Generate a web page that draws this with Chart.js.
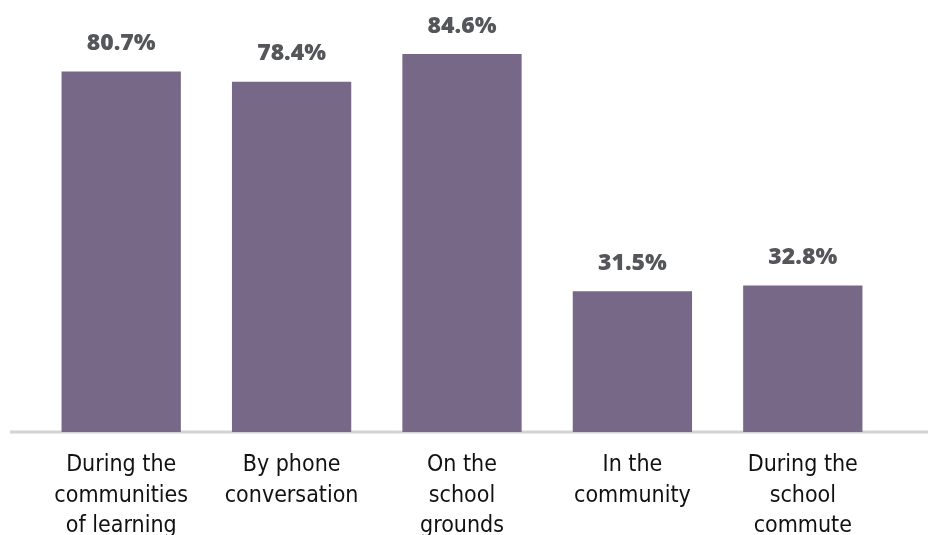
<!DOCTYPE html>
<html><head><meta charset="utf-8">
<script src="https://cdn.jsdelivr.net/npm/chart.js@4/dist/chart.umd.min.js"></script>
<style>html,body{margin:0;padding:0;background:#fff}#wrap{width:928px;height:535px}</style>
</head><body><div id="wrap"><canvas id="c" width="928" height="535"></canvas></div>
<script>
const categories = [
  ["During the","communities","of learning"],
  ["By phone","conversation"],
  ["On the","school","grounds"],
  ["In the","community"],
  ["During the","school","commute"]
];
const values = [80.7, 78.4, 84.6, 31.5, 32.8];
const valueLabels = ["80.7%","78.4%","84.6%","31.5%","32.8%"];

const labelPlugin = {
  id:'labels',
  afterDatasetsDraw(chart){
    const ctx = chart.ctx;
    const meta = chart.getDatasetMeta(0);
    ctx.save();
    ctx.font = '800 23px "Open Sans", sans-serif';
    ctx.fillStyle = '#54565a';
    ctx.textAlign = 'center';
    ctx.textBaseline = 'middle';
    meta.data.forEach((bar,i)=>{
      ctx.fillText(valueLabels[i], bar.x, bar.y - 28);
    });
    ctx.restore();
  },
  beforeDatasetsDraw(chart){
    const ctx = chart.ctx;
    const y = chart.chartArea.bottom;
    ctx.save();
    ctx.strokeStyle = '#d3d3d6';
    ctx.lineWidth = 3;
    ctx.beginPath();
    ctx.moveTo(10, y);
    ctx.lineTo(chart.width, y);
    ctx.stroke();
    ctx.restore();
  }
};

new Chart(document.getElementById('c'), {
  type:'bar',
  data:{labels:categories, datasets:[{data:values, backgroundColor:'#766886', categoryPercentage:0.7, barPercentage:1.0}]},
  options:{
    responsive:false, animation:false,
    layout:{padding:{left:36, right:40, top:30, bottom:0}},
    plugins:{legend:{display:false}, tooltip:{enabled:false}},
    scales:{
      y:{min:0, max:90, display:false},
      x:{
        grid:{display:false}, border:{display:false},
        ticks:{color:'#111', font:{family:'"DejaVu Sans Condensed",sans-serif', size:23, lineHeight:1.33}, padding:10, maxRotation:0, autoSkip:false},
        afterFit(scale){ scale.height = 103; }
      }
    }
  },
  plugins:[labelPlugin]
});
</script></body></html>
